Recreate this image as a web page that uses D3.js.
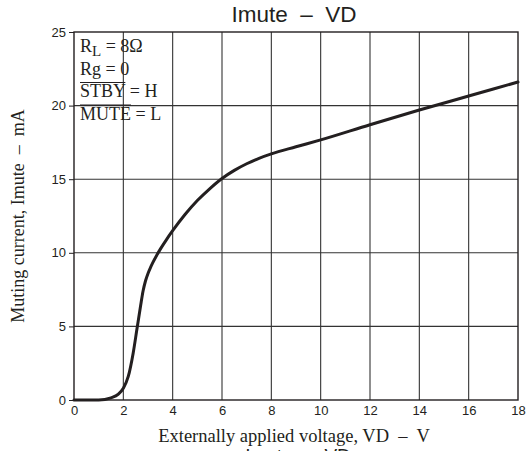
<!DOCTYPE html>
<html><head><meta charset="utf-8">
<script src="https://cdn.jsdelivr.net/npm/d3@7"></script>
<style>
html,body{margin:0;padding:0;background:#fff;}
svg{display:block;}
</style></head>
<body>
<svg id="chart" width="526" height="451"></svg>
<script>
const voltage = [0, 1.0, 1.5, 1.8, 2.0, 2.2, 2.4, 2.55, 2.7, 2.8, 2.9, 3.0, 3.1, 3.2, 3.35, 3.5, 3.75, 4.0, 4.5, 5.0, 5.5, 6.0, 6.5, 7.0, 7.5, 8.0, 9.0, 10, 12, 14, 16, 18];
const current = [0, 0, 0.15, 0.4, 0.8, 1.6, 3.2, 4.8, 6.4, 7.4, 8.1, 8.6, 9.0, 9.35, 9.82, 10.25, 10.9, 11.5, 12.6, 13.55, 14.35, 15.05, 15.6, 16.05, 16.42, 16.72, 17.2, 17.67, 18.7, 19.7, 20.65, 21.6];
const xTicks = [0, 2, 4, 6, 8, 10, 12, 14, 16, 18];
const yTicks = [0, 5, 10, 15, 20, 25];
const legendLines = ["RL = 8Ω", "Rg = 0", "STBY = H", "MUTE = L"];

const svg = d3.select("#chart");
const m = {left: 74, right: 8, top: 32, bottom: 51};
const W = 526, H = 451;
const x = d3.scaleLinear().domain([0, 18]).range([m.left, W - m.right]);
const y = d3.scaleLinear().domain([0, 25]).range([H - m.bottom, m.top]);
const ink = "#231f20";
const sans = "'Liberation Sans', Arial, sans-serif";
const serif = "'Liberation Serif', 'Times New Roman', serif";

// grid
const g = svg.append("g");
g.selectAll("line.vx").data(xTicks.slice(1, -1)).join("line")
  .attr("x1", d => x(d)).attr("x2", d => x(d))
  .attr("y1", y(0)).attr("y2", y(25))
  .attr("stroke", "#333").attr("stroke-width", 1.1);
g.selectAll("line.hy").data(yTicks.slice(1, -1)).join("line")
  .attr("x1", x(0)).attr("x2", x(18))
  .attr("y1", d => y(d)).attr("y2", d => y(d))
  .attr("stroke", "#333").attr("stroke-width", 1.1);

// frame
svg.append("rect").attr("x", x(0)).attr("y", y(25))
  .attr("width", x(18) - x(0)).attr("height", y(0) - y(25))
  .attr("fill", "none").attr("stroke", ink).attr("stroke-width", 1.4);

// axes
const xAxis = d3.axisBottom(x).tickValues(xTicks).tickSize(0).tickPadding(6).tickFormat(d3.format("d"));
const gx = svg.append("g").attr("transform", `translate(0,${y(0)})`).call(xAxis);
gx.select(".domain").remove();
gx.selectAll("text").attr("font-family", sans).attr("font-size", 13).attr("fill", ink);

const yAxis = d3.axisLeft(y).tickValues(yTicks).tickSize(5).tickPadding(3).tickFormat(d3.format("d"));
const gy = svg.append("g").attr("transform", `translate(${x(0)},0)`).call(yAxis);
gy.select(".domain").remove();
gy.selectAll("line").attr("stroke", ink);
gy.selectAll("text").attr("font-family", sans).attr("font-size", 13).attr("fill", ink);

// curve
const pts = voltage.map((v, i) => [v, current[i]]);
const line = d3.line().x(d => x(d[0])).y(d => y(d[1])).curve(d3.curveMonotoneX);
svg.append("path").datum(pts).attr("d", line)
  .attr("fill", "none").attr("stroke", ink).attr("stroke-width", 3)
  .attr("stroke-linejoin", "round").attr("stroke-linecap", "round");

// title
svg.append("text").attr("x", 294).attr("y", 22)
  .attr("text-anchor", "middle").attr("font-family", sans).attr("font-size", 22.5).attr("fill", ink)
  .style("white-space", "pre").text("Imute  –  VD");
// cut-off caption at bottom edge (as in the reference)
svg.append("text").attr("x", 298).attr("y", 462)
  .attr("text-anchor", "middle").attr("font-family", sans).attr("font-size", 19).attr("fill", ink)
  .style("white-space", "pre").text("Imute  –  VD");

// axis labels
svg.append("text").attr("x", 294).attr("y", 442)
  .attr("text-anchor", "middle").attr("font-family", serif).attr("font-size", 18.5).attr("fill", ink)
  .style("white-space", "pre").text("Externally applied voltage, VD  –  V");
svg.append("text").attr("transform", `translate(24,${(y(0) + y(25)) / 2}) rotate(-90)`)
  .attr("text-anchor", "middle").attr("font-family", serif).attr("font-size", 18).attr("fill", ink)
  .style("white-space", "pre").text("Muting current, Imute  –  mA");

// legend
const lg = svg.append("g").attr("font-family", serif).attr("font-size", 18).attr("fill", ink);
const lx = 80, ly0 = 52, dy = 22.5;
const t1 = lg.append("text").attr("x", lx).attr("y", ly0);
t1.append("tspan").text("R");
t1.append("tspan").attr("dy", 4).attr("font-size", 15).text("L");
t1.append("tspan").attr("dy", -4).text(" = 8Ω");
lg.append("text").attr("x", lx).attr("y", ly0 + dy).text(legendLines[1]);
const t3 = lg.append("text").attr("x", lx).attr("y", ly0 + 2 * dy);
t3.append("tspan").attr("class", "ov").text("STBY");
t3.append("tspan").text(" = H");
const t4 = lg.append("text").attr("x", lx).attr("y", ly0 + 3 * dy);
t4.append("tspan").attr("class", "ov").text("MUTE");
t4.append("tspan").text(" = L");
[t3, t4].forEach(t => {
  const n = t.select("tspan.ov").node();
  const len = n.getComputedTextLength();
  const by = +t.attr("y");
  lg.append("line").attr("x1", lx).attr("x2", lx + len)
    .attr("y1", by - 14.5).attr("y2", by - 14.5)
    .attr("stroke", ink).attr("stroke-width", 1.2);
});
</script>
</body></html>
